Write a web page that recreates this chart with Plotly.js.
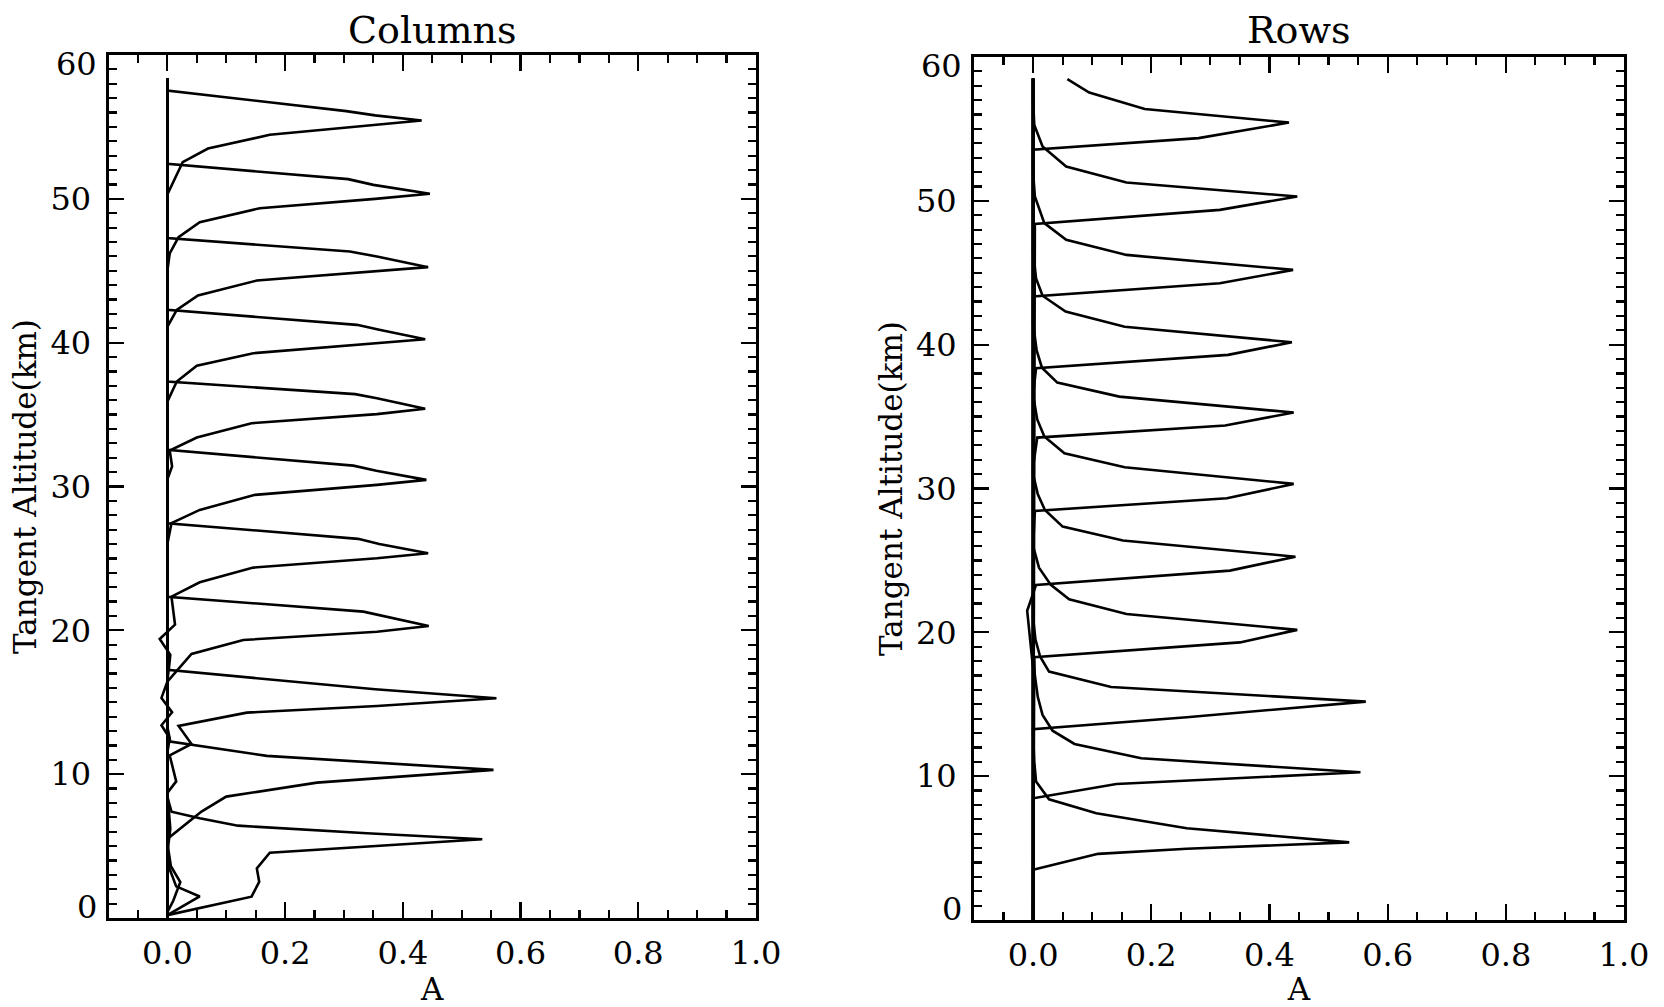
<!DOCTYPE html>
<html>
<head>
<meta charset="utf-8">
<script src="https://cdn.plot.ly/plotly-3.0.1.min.js"></script>
<style>
  html, body { margin: 0; padding: 0; background: #fff; }
  #chart { width: 1664px; height: 1007px; }
</style>
</head>
<body>
<div id="chart"></div>
<script>
// Averaging kernel A against tangent altitude (km).
// Left panel: columns of the kernel matrix; right panel: rows.

// ---- Columns ----
const colAltB1 = [0.2, 1.5, 2.2, 3.5, 5.0];
const colAB1   = [0, 0.055, 0.015, 0.003, 0];
const colAltB2 = [0.4, 1.2, 2.5, 3.6, 5.2];
const colAB2   = [0, 0.01, 0.022, 0.006, 0];

const colAlt05 = [0.2, 1.48, 2.52, 3.45, 4.54, 5.47, 5.89, 6.42, 6.93, 7.39, 8.4, 58.4];
const colA05   = [0, 0.143, 0.156, 0.152, 0.174, 0.535, 0.339, 0.12, 0.055, 0.007, 0, 0];

const colAlt10 = [0, 5.5, 7.4, 8.44, 9.41, 10.3, 11.27, 12.26, 13.3, 58.4];
const colA10   = [0, 0, 0.058, 0.1, 0.254, 0.554, 0.169, 0.005, 0, 0];

const colAlt15 = [0, 4.5, 6.2, 8.7, 9.5, 11.3, 12.1, 13.35, 14.28, 14.74, 15.28, 15.9, 17.25, 58.4];
const colA15   = [0, 0, 0.005, 0, 0.015, 0.004, 0.041, 0.019, 0.135, 0.356, 0.559, 0.353, 0, 0];

const colAlt20 = [0, 11.5, 12.5, 13.4, 14.3, 15.3, 16.43, 18.36, 19.33, 19.9, 20.3, 21.3, 22.34, 58.4];
const colA20   = [0, 0, 0.004, -0.01, 0.008, -0.01, 0, 0.041, 0.129, 0.356, 0.444, 0.333, 0, 0];

const colAlt25 = [0, 16.5, 17.5, 18.3, 19.4, 20.4, 22.34, 23.34, 24.36, 25.01, 25.36, 26.0, 26.36, 27.45, 58.4];
const colA25   = [0, 0, 0.003, 0.005, -0.013, 0.013, 0.007, 0.055, 0.146, 0.356, 0.443, 0.36, 0.324, 0, 0];

const colAlt30 = [0, 26.0, 27.45, 28.37, 29.42, 30.11, 30.46, 31.1, 31.45, 32.55, 58.4];
const colA30   = [0, 0, 0.007, 0.055, 0.149, 0.356, 0.44, 0.355, 0.316, 0, 0];

const colAlt35 = [0, 30.5, 31.4, 32.5, 33.4, 34.4, 35.03, 35.4, 36.14, 36.42, 37.3, 58.4];
const colA35   = [0, 0, 0.008, 0.004, 0.05, 0.143, 0.356, 0.438, 0.356, 0.319, 0, 0];

const colAlt40 = [0, 35.9, 37.3, 38.39, 39.27, 39.9, 40.24, 40.9, 41.24, 42.28, 58.4];
const colA40   = [0, 0, 0.016, 0.05, 0.146, 0.34, 0.438, 0.36, 0.322, 0, 0];

const colAlt45 = [0, 41.1, 42.28, 43.28, 44.32, 44.88, 45.25, 45.99, 46.34, 47.27, 58.4];
const colA45   = [0, 0, 0.016, 0.052, 0.152, 0.333, 0.443, 0.356, 0.31, 0, 0];

const colAlt50 = [0, 45.0, 46.2, 47.34, 48.38, 49.35, 50.0, 50.35, 50.97, 51.37, 52.43, 58.4];
const colA50   = [0, 0, 0.004, 0.019, 0.055, 0.157, 0.353, 0.446, 0.35, 0.307, 0, 0];

const colAlt55 = [0, 50.3, 52.55, 53.5, 54.45, 55.15, 55.45, 55.8, 56.1, 57.53, 58.4];
const colA55   = [0, 0, 0.026, 0.069, 0.174, 0.353, 0.432, 0.353, 0.304, 0, 0];

// ---- Rows ----
const rowAlt05 = [0, 3.5, 4.6, 4.95, 5.4, 6.38, 7.42, 8.39, 9.62, 11.0, 13.0, 58.5];
const rowA05   = [0, 0, 0.11, 0.26, 0.535, 0.26, 0.107, 0.027, 0.005, 0.002, 0, 0];

const rowAlt10 = [0, 8.46, 9.46, 10.27, 11.24, 12.24, 13.16, 14.26, 15.5, 17.0, 19.0, 58.5];
const rowA10   = [0, 0, 0.141, 0.554, 0.183, 0.07, 0.033, 0.016, 0.008, 0.003, 0, 0];

const rowAlt15 = [0, 13.26, 14.1, 15.18, 16.2, 17.27, 18.3, 19.5, 21.0, 58.5];
const rowA15   = [0, 0, 0.26, 0.563, 0.132, 0.027, 0.012, 0.004, 0, 0];

const rowAlt20 = [0, 18.27, 19.3, 20.17, 21.28, 22.3, 23.3, 24.5, 26.0, 58.5];
const rowA20   = [0, 0.002, 0.35, 0.447, 0.158, 0.061, 0.03, 0.01, 0, 0];

const rowAlt25 = [0, 17.5, 19.5, 21.5, 23.3, 24.29, 25.26, 26.38, 27.35, 28.51, 29.6, 31.0, 58.5];
const rowA25   = [0, 0, -0.005, -0.01, 0.005, 0.333, 0.444, 0.152, 0.05, 0.02, 0.008, 0, 0];

const rowAlt30 = [0, 26.0, 28.44, 29.32, 30.32, 31.48, 32.45, 33.61, 34.8, 36.5, 58.5];
const rowA30   = [0, 0, 0.003, 0.328, 0.441, 0.155, 0.053, 0.019, 0.007, 0, 0];

const rowAlt35 = [0, 31.5, 33.54, 34.38, 35.28, 36.39, 37.36, 38.4, 39.6, 41.5, 58.5];
const rowA35   = [0, 0, 0.007, 0.325, 0.441, 0.146, 0.041, 0.015, 0.006, 0, 0];

const rowAlt40 = [0, 36.5, 38.36, 39.29, 40.17, 41.25, 42.3, 43.4, 44.6, 46.5, 58.5];
const rowA40   = [0, 0, 0.005, 0.33, 0.438, 0.155, 0.055, 0.016, 0.005, 0, 0];

const rowAlt45 = [0, 43.35, 44.27, 45.2, 46.24, 47.29, 48.45, 50.3, 52.0, 58.5];
const rowA45   = [0, 0, 0.316, 0.44, 0.158, 0.056, 0.019, 0.003, 0, 0];

const rowAlt50 = [0, 48.4, 49.37, 50.3, 51.27, 52.39, 53.78, 55.28, 57.0, 58.5];
const rowA50   = [0, 0.003, 0.316, 0.447, 0.158, 0.056, 0.016, 0.002, 0, 0];

const rowAlt55 = [0, 53.55, 54.36, 55.44, 56.38, 57.53, 58.46];
const rowA55   = [0, 0, 0.28, 0.433, 0.189, 0.095, 0.058];

// ---- Axis ticks and labels ----
const altTickVals = [0, 10, 20, 30, 40, 50, 60];
const altTickText = ['', '10', '20', '30', '40', '50', ''];
const altEdgeLabels = [0, 60];
const panelTitles = ['Columns', 'Rows'];
const xTitle = 'A';
const yTitle = 'Tangent Altitude(km)';

const FONT = 'DejaVu Serif, Liberation Serif, serif';
const INK = '#000';
const TICK_SIZE = 32;

const columnCurves = [
  [colAltB1, colAB1], [colAltB2, colAB2],
  [colAlt05, colA05], [colAlt10, colA10], [colAlt15, colA15], [colAlt20, colA20],
  [colAlt25, colA25], [colAlt30, colA30], [colAlt35, colA35], [colAlt40, colA40],
  [colAlt45, colA45], [colAlt50, colA50], [colAlt55, colA55]
];
const rowCurves = [
  [rowAlt05, rowA05], [rowAlt10, rowA10], [rowAlt15, rowA15], [rowAlt20, rowA20],
  [rowAlt25, rowA25], [rowAlt30, rowA30], [rowAlt35, rowA35], [rowAlt40, rowA40],
  [rowAlt45, rowA45], [rowAlt50, rowA50], [rowAlt55, rowA55]
];

function curveTraces(curves, xa, ya) {
  return curves.map(([alt, a]) => ({
    type: 'scatter', mode: 'lines', x: a, y: alt,
    xaxis: xa, yaxis: ya,
    line: { color: INK, width: 2.6 },
    hoverinfo: 'skip', showlegend: false
  }));
}

const W = 1664, H = 1007;
const px = (a, b) => [a / W, b / W];
const py = (top, bottom) => [(H - bottom) / H, (H - top) / H];

function xAxis(domain, anchor) {
  return {
    domain, anchor, range: [-0.1, 1.0],
    tickmode: 'linear', tick0: 0, dtick: 0.2, tickformat: '.1f',
    ticks: 'inside', ticklen: 16, tickwidth: 2.2, tickcolor: INK,
    showline: true, linewidth: 3, linecolor: INK, mirror: 'allticks',
    showgrid: false, zeroline: false,
    ticklabelstandoff: 5,
    tickfont: { family: FONT, size: TICK_SIZE, color: INK },
    minor: { tickmode: 'linear', tick0: 0, dtick: 0.05, ticks: 'inside', ticklen: 8, tickwidth: 2.2, tickcolor: INK, showgrid: false },
    title: { text: xTitle, font: { family: FONT, size: 31, color: INK }, standoff: 24 },
    automargin: false, fixedrange: true
  };
}

function yAxis(domain, anchor) {
  return {
    domain, anchor, range: [0, 60],
    tickmode: 'array', tickvals: altTickVals, ticktext: altTickText,
    ticks: 'inside', ticklen: 15, tickwidth: 2.2, tickcolor: INK,
    showline: true, linewidth: 3, linecolor: INK, mirror: 'allticks',
    showgrid: false, zeroline: false,
    ticklabelstandoff: 8,
    tickfont: { family: FONT, size: TICK_SIZE, color: INK },
    minor: { tickmode: 'linear', tick0: 0, dtick: 1, ticks: 'inside', ticklen: 8, tickwidth: 2.2, tickcolor: INK, showgrid: false },
    title: { text: yTitle, font: { family: FONT, size: 31, color: INK }, standoff: 5 },
    automargin: false, fixedrange: true
  };
}

// The 0 and 60 labels sit just inside the frame ends
function edgeLabels(xref, yref) {
  return altEdgeLabels.map(v => ({
    text: String(v), xref: xref + ' domain', x: 0, xanchor: 'right', xshift: -10,
    yref: yref, y: v, yanchor: 'middle', yshift: v === 0 ? 11 : -9,
    showarrow: false, font: { family: FONT, size: TICK_SIZE, color: INK }
  }));
}

const annotations = [
  { text: panelTitles[0], xref: 'x domain', x: 0.5, xanchor: 'center', yref: 'paper', y: (H - 30) / H, yanchor: 'middle',
    showarrow: false, font: { family: FONT, size: 38, color: INK } },
  { text: panelTitles[1], xref: 'x2 domain', x: 0.5, xanchor: 'center', yref: 'paper', y: (H - 30) / H, yanchor: 'middle',
    showarrow: false, font: { family: FONT, size: 38, color: INK } },
  ...edgeLabels('x', 'y'),
  ...edgeLabels('x2', 'y2')
];

const layout = {
  width: W, height: H,
  margin: { l: 0, r: 0, t: 0, b: 0, pad: 0 },
  paper_bgcolor: '#fff', plot_bgcolor: '#fff',
  showlegend: false,
  font: { family: FONT, color: INK },
  xaxis: xAxis(px(108.5, 756), 'y'),
  yaxis: yAxis(py(55, 918), 'x'),
  xaxis2: xAxis(px(974, 1624), 'y2'),
  yaxis2: yAxis(py(57, 920), 'x2'),
  annotations
};

const data = [
  ...curveTraces(columnCurves, 'x', 'y'),
  ...curveTraces(rowCurves, 'x2', 'y2')
];

Plotly.newPlot('chart', data, layout, { staticPlot: true, displayModeBar: false });
</script>
</body>
</html>
